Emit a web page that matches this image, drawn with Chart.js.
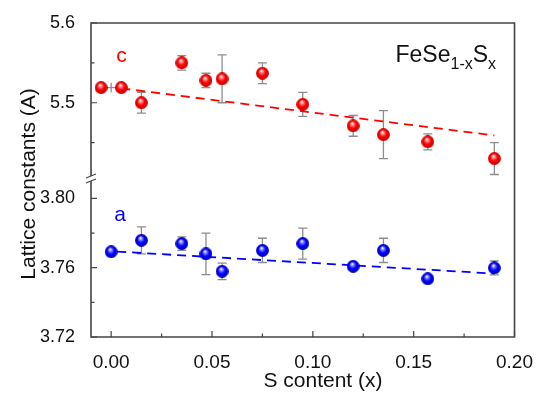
<!DOCTYPE html>
<html>
<head>
<meta charset="utf-8">
<script src="https://cdn.jsdelivr.net/npm/chart.js@4/dist/chart.umd.min.js"></script>
<style>
  html, body { margin: 0; padding: 0; background: #fff; }
  #wrap { width: 539px; height: 394px; }
</style>
</head>
<body>
<div id="wrap"><canvas id="myChart" width="539" height="394"></canvas></div>
<script>
// lattice constant c (upper panel)
var xC = [-0.005, 0.005, 0.015, 0.035, 0.047, 0.055, 0.075, 0.095, 0.12, 0.135, 0.157, 0.19];
var cVals = [5.519, 5.519, 5.500, 5.550, 5.528, 5.530, 5.537, 5.498, 5.471, 5.460, 5.451, 5.430];
var cErr = [0, 0, 0.013, 0.009, 0.009, 0.030, 0.013, 0.015, 0.013, 0.030, 0.010, 0.020];
// small gray cross between the two x~0 points
var xCross = [0];
var cCross = [5.519];
var cCrossErr = [0.006];

// lattice constant a (lower panel)
var xA = [0, 0.015, 0.035, 0.047, 0.055, 0.075, 0.095, 0.12, 0.135, 0.157, 0.19];
var aVals = [3.7692, 3.7758, 3.7739, 3.768, 3.7579, 3.770, 3.7739, 3.7608, 3.770, 3.7536, 3.7599];
var aErr = [0, 0.0078, 0.0039, 0.012, 0.0048, 0.007, 0.009, 0.001, 0.007, 0.0015, 0.004];

// linear fits
var cFitX = [0.005, 0.19];
var cFit = [5.518, 5.459];
var aFitX = [0.003, 0.19];
var aFit = [3.7693, 3.7566];

// ticks
var xTicks = [0, 0.05, 0.10, 0.15, 0.20];
var xMinor = [0.025, 0.075, 0.125, 0.175];
var cTicks = [5.5, 5.6];
var cMinor = [5.45, 5.55];
var aTicks = [3.72, 3.76, 3.80];
var aMinor = [3.74, 3.78];

var FONT = '"Liberation Sans", Arial, sans-serif';

function sphere(base, dark, light) {
  var s = 13, r = 6.4, c = s / 2;
  var cv = document.createElement('canvas');
  cv.width = s; cv.height = s;
  var g = cv.getContext('2d');
  var grad = g.createRadialGradient(c - 1, c - 2.5, 0.3, c, c, r);
  grad.addColorStop(0, '#ffffff');
  grad.addColorStop(0.22, light);
  grad.addColorStop(0.55, base);
  grad.addColorStop(1, dark);
  g.fillStyle = grad;
  g.beginPath();
  g.arc(c, c, r, 0, Math.PI * 2);
  g.fill();
  return cv;
}
var redBall = sphere('#ff0000', '#c80000', '#ff8080');
var blueBall = sphere('#0000ff', '#0000b8', '#8080ff');

function pts(xs, ys) {
  return xs.map(function(x, i) { return {x: x, y: ys[i]}; });
}

function setTicks(list) {
  return function(scale) {
    scale.ticks = list.map(function(v) { return {value: v}; });
  };
}

var errorBars = {
  id: 'errorBars',
  beforeDatasetsDraw: function(chart) {
    var ctx = chart.ctx, xs = chart.scales.x, yc = chart.scales.yc;
    ctx.save();
    ctx.strokeStyle = '#8c8c8c';
    ctx.lineWidth = 1.3;
    function draw(xv, yv, ev, scale, cap) {
      for (var i = 0; i < xv.length; i++) {
        if (!ev[i]) continue;
        var px = xs.getPixelForValue(xv[i]);
        var y1 = scale.getPixelForValue(yv[i] + ev[i]);
        var y2 = scale.getPixelForValue(yv[i] - ev[i]);
        ctx.beginPath();
        ctx.moveTo(px, y1); ctx.lineTo(px, y2);
        if (cap) {
          ctx.moveTo(px - 4.5, y1); ctx.lineTo(px + 4.5, y1);
          ctx.moveTo(px - 4.5, y2); ctx.lineTo(px + 4.5, y2);
        }
        ctx.stroke();
      }
    }
    draw(xC, cVals, cErr, yc, true);
    draw(xA, aVals, aErr, chart.scales.ya, true);
    draw(xCross, cCross, cCrossErr, yc, false);
    ctx.beginPath();
    ctx.moveTo(xs.getPixelForValue(xC[0]), yc.getPixelForValue(cVals[0]));
    ctx.lineTo(xs.getPixelForValue(xC[1]), yc.getPixelForValue(cVals[1]));
    ctx.stroke();
    ctx.restore();
  }
};

var frame = {
  id: 'frame',
  afterDraw: function(chart) {
    var ctx = chart.ctx, a = chart.chartArea;
    var xs = chart.scales.x, yc = chart.scales.yc, ya = chart.scales.ya;
    var b = yc.bottom;
    ctx.save();
    ctx.strokeStyle = '#444';
    ctx.lineWidth = 1.6;
    ctx.beginPath();
    ctx.moveTo(a.left, b - 2.5); ctx.lineTo(a.left, a.top);
    ctx.lineTo(a.right, a.top); ctx.lineTo(a.right, a.bottom);
    ctx.lineTo(a.left, a.bottom); ctx.lineTo(a.left, b + 2.5);
    ctx.stroke();
    // axis break
    ctx.lineWidth = 1.2;
    ctx.beginPath();
    ctx.moveTo(a.left - 5, b - 0.5); ctx.lineTo(a.left + 5, b - 4.5);
    ctx.moveTo(a.left - 5, b + 4.5); ctx.lineTo(a.left + 5, b + 0.5);
    ctx.stroke();
    // inward ticks
    ctx.lineWidth = 1.2;
    ctx.beginPath();
    xTicks.forEach(function(v) { var p = xs.getPixelForValue(v); ctx.moveTo(p, a.bottom); ctx.lineTo(p, a.bottom - 6); });
    xMinor.forEach(function(v) { var p = xs.getPixelForValue(v); ctx.moveTo(p, a.bottom); ctx.lineTo(p, a.bottom - 3.5); });
    cTicks.forEach(function(v) { var p = yc.getPixelForValue(v); ctx.moveTo(a.left, p); ctx.lineTo(a.left + 6, p); });
    cMinor.forEach(function(v) { var p = yc.getPixelForValue(v); ctx.moveTo(a.left, p); ctx.lineTo(a.left + 3.5, p); });
    aTicks.forEach(function(v) { var p = ya.getPixelForValue(v); ctx.moveTo(a.left, p); ctx.lineTo(a.left + 6, p); });
    aMinor.forEach(function(v) { var p = ya.getPixelForValue(v); ctx.moveTo(a.left, p); ctx.lineTo(a.left + 3.5, p); });
    ctx.stroke();

    // labels
    ctx.textBaseline = 'alphabetic';
    ctx.textAlign = 'left';
    ctx.font = '21px ' + FONT;
    ctx.fillStyle = '#ff0000';
    ctx.fillText('c', xs.getPixelForValue(0.0025), yc.getPixelForValue(5.551));
    ctx.fillStyle = '#0000ff';
    ctx.fillText('a', xs.getPixelForValue(0.0015), ya.getPixelForValue(3.787));

    ctx.fillStyle = '#111';
    var tx = xs.getPixelForValue(0.141), ty = yc.getPixelForValue(5.5515);
    ctx.font = '23px ' + FONT;
    ctx.fillText('FeSe', tx, ty);
    tx += ctx.measureText('FeSe').width;
    ctx.font = '16px ' + FONT;
    ctx.fillText('1-x', tx, ty + 7);
    tx += ctx.measureText('1-x').width;
    ctx.font = '23px ' + FONT;
    ctx.fillText('S', tx, ty);
    tx += ctx.measureText('S').width;
    ctx.font = '16px ' + FONT;
    ctx.fillText('x', tx, ty + 7);

    // axis titles
    ctx.fillStyle = '#111';
    ctx.font = '21px ' + FONT;
    ctx.textAlign = 'center';
    ctx.textBaseline = 'middle';
    ctx.fillText('S content (x)', 323, 381);
    ctx.translate(29, 184);
    ctx.rotate(-Math.PI / 2);
    ctx.fillText('Lattice constants (A)', 0, 0);
    ctx.restore();
  }
};

window.onload = function() {
  var ctx = document.getElementById('myChart').getContext('2d');

  var params = {
    type: 'scatter',
    data: {
      datasets: [
        {
          label: 'c',
          data: pts(xC, cVals),
          yAxisID: 'yc',
          pointStyle: redBall,
          showLine: false
        },
        {
          label: 'a',
          data: pts(xA, aVals),
          yAxisID: 'ya',
          pointStyle: blueBall,
          showLine: false
        },
        {
          label: 'c fit',
          data: pts(cFitX, cFit),
          yAxisID: 'yc',
          showLine: true,
          borderColor: '#ff0000',
          borderWidth: 1.8,
          borderDash: [9, 6],
          pointRadius: 0,
          fill: false
        },
        {
          label: 'a fit',
          data: pts(aFitX, aFit),
          yAxisID: 'ya',
          showLine: true,
          borderColor: '#0000ff',
          borderWidth: 1.8,
          borderDash: [9, 6],
          pointRadius: 0,
          fill: false
        }
      ]
    },
    options: {
      responsive: false,
      animation: false,
      layout: { padding: { top: 23, right: 22, left: 0, bottom: 0 } },
      plugins: { legend: { display: false }, tooltip: { enabled: false } },
      scales: {
        x: {
          type: 'linear',
          position: 'bottom',
          min: -0.01,
          max: 0.2,
          afterBuildTicks: setTicks(xTicks),
          afterFit: function(s) { s.height = 57; },
          grid: { display: false },
          border: { display: false },
          ticks: {
            padding: 6,
            color: '#111',
            font: { size: 19, family: FONT },
            callback: function(v) { return v.toFixed(2); }
          }
        },
        ya: {
          type: 'linear',
          position: 'left',
          stack: 'y',
          stackWeight: 157,
          min: 3.72,
          max: 3.8115,
          afterBuildTicks: setTicks(aTicks),
          afterFit: function(s) { s.width = 91; },
          grid: { display: false },
          border: { display: false },
          ticks: {
            padding: 8,
            color: '#111',
            font: { size: 18, family: FONT },
            callback: function(v) { return v.toFixed(2); }
          }
        },
        yc: {
          type: 'linear',
          position: 'left',
          stack: 'y',
          stackWeight: 154,
          min: 5.405,
          max: 5.6,
          afterBuildTicks: setTicks(cTicks),
          afterFit: function(s) { s.width = 91; },
          grid: { display: false },
          border: { display: false },
          ticks: {
            padding: 8,
            color: '#111',
            font: { size: 18, family: FONT },
            callback: function(v) { return v.toFixed(1); }
          }
        }
      }
    },
    plugins: [errorBars, frame]
  };

  var chart = new Chart(ctx, params);
};
</script>
</body>
</html>
